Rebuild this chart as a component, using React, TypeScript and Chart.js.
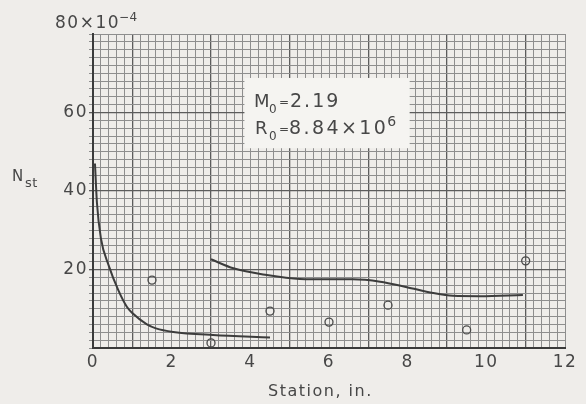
import React, { useEffect, useRef } from 'react';
import { Chart, registerables } from 'chart.js';
Chart.register(...registerables);

// Left decaying curve (Station, in. -> Nst x 10^4)
const curveAX = [0.05, 0.1, 0.2, 0.4, 0.64, 0.86, 1.0, 1.37, 1.6, 2.04, 3.05, 4.5];
const curveAY = [47, 37, 28, 21, 14.8, 10.5, 8.9, 6.0, 5.0, 4.1, 3.3, 2.7];
// Right curve
const curveBX = [3.0, 3.57, 4.42, 5.26, 6.03, 6.6, 7.3, 7.98, 8.65, 9.15, 9.84, 10.93];
const curveBY = [22.6, 20.3, 18.6, 17.6, 17.5, 17.5, 16.9, 15.5, 14.0, 13.3, 13.2, 13.5];
// Open-circle data points
const pointX = [1.5, 3, 4.5, 6, 7.5, 9.5, 11];
const pointY = [17.3, 1.3, 9.4, 6.6, 10.9, 4.6, 22.2];
// Tick labels
const xTickLabels = [0, 2, 4, 6, 8, 10, 12];
const yTickLabels = [20, 40, 60];

export default function App() {
  const ref = useRef<HTMLCanvasElement>(null);
  useEffect(() => {
    const canvas = ref.current!;
    const ink = '#474747';
    const fam = '"DejaVu Sans", sans-serif';
    const near = (v: number, t: number) => Math.abs(v - t) < 1e-6;
    const isInt = (v: number) => near(v, Math.round(v));
    const minor = '#8e8e8e';
    const major = '#5c5c5c';

    const paper = {
      id: 'paper',
      beforeDraw(chart: any) {
        const ctx = chart.ctx;
        ctx.save();
        ctx.fillStyle = '#efedea';
        ctx.fillRect(0, 0, chart.width, chart.height);
        ctx.restore();
        ctx.letterSpacing = '1.5px';
      },
      beforeDatasetsDraw(chart: any) {
        const ctx = chart.ctx;
        const xs = chart.scales.x;
        const ys = chart.scales.y;
        const x0 = xs.getPixelForValue(3.85);
        const x1 = xs.getPixelForValue(8.05);
        const y0 = ys.getPixelForValue(68.8);
        const y1 = ys.getPixelForValue(50.9);
        ctx.save();
        ctx.fillStyle = '#f5f4f1';
        ctx.fillRect(x0, y0, x1 - x0, y1 - y0);
        ctx.restore();
      },
      afterDraw(chart: any) {
        const ctx = chart.ctx;
        ctx.save();
        ctx.fillStyle = ink;
        ctx.textBaseline = 'alphabetic';
        ctx.textAlign = 'left';
        const t = (s: string, x: number, y: number, size: number, sp = 1.5) => {
          ctx.letterSpacing = `${sp}px`;
          ctx.font = `${size}px ${fam}`;
          ctx.fillText(s, x, y);
          return x + ctx.measureText(s).width;
        };
        // top y label
        const e1 = t('80\u00d710', 55, 28, 17);
        t('\u22124', e1 - 1, 21, 12, 0.5);
        // y axis title
        t('N', 12, 181, 15);
        t('st', 25, 187, 13, 0.5);
        // x axis title
        t('Station, in.', 268, 396, 16);
        // annotation box
        t('M', 254, 107, 18, 0);
        t('0', 269, 113, 12, 0);
        t('=', 279, 106, 12, 0);
        t('2.19', 290, 107, 19, 2);
        t('R', 255, 134, 18, 0);
        t('0', 269, 140, 12, 0);
        t('=', 279, 133, 12, 0);
        const e2 = t('8.84\u00d710', 289, 134, 19, 2.4);
        t('6', e2 - 1, 126, 14, 0);
        ctx.restore();
      },
    };

    const chart = new Chart(canvas, {
      type: 'scatter',
      data: {
        datasets: [
          {
            data: curveAX.map((x, i) => ({ x, y: curveAY[i] })),
            showLine: true,
            borderColor: '#3c3c3c',
            borderWidth: 2,
            pointRadius: 0,
            cubicInterpolationMode: 'monotone',
          },
          {
            data: curveBX.map((x, i) => ({ x, y: curveBY[i] })),
            showLine: true,
            borderColor: '#3c3c3c',
            borderWidth: 2,
            pointRadius: 0,
            cubicInterpolationMode: 'monotone',
          },
          {
            data: pointX.map((x, i) => ({ x, y: pointY[i] })),
            showLine: false,
            pointStyle: 'circle',
            pointRadius: 4,
            backgroundColor: 'rgba(0,0,0,0)',
            borderColor: '#4a4a4a',
            borderWidth: 1.3,
          },
        ],
      },
      options: {
        responsive: false,
        animation: false,
        events: [],
        layout: { padding: { left: 0, top: 34, right: 21, bottom: 0 } },
        plugins: { legend: { display: false }, tooltip: { enabled: false } },
        scales: {
          x: {
            type: 'linear',
            min: 0,
            max: 12,
            afterFit(scale: any) { scale.height = 56; },
            ticks: {
              stepSize: 0.2,
              autoSkip: false,
              maxRotation: 0,
              minRotation: 0,
              padding: 4,
              color: ink,
              font: { family: fam, size: 17 },
              callback: (v: any) => {
                const n = Number(v);
                const hit = xTickLabels.find((l) => near(l, n));
                return hit !== undefined ? String(hit) : '';
              },
            },
            grid: {
              drawTicks: false,
              color: (c: any) => {
                const v = c.tick ? c.tick.value : 0;
                return isInt(v) && Math.round(v) % 2 === 1 ? major : minor;
              },
              lineWidth: (c: any) => {
                const v = c.tick ? c.tick.value : 0;
                return isInt(v) && Math.round(v) % 2 === 1 ? 1.3 : 1;
              },
            },
            border: { display: true, color: '#3a3a3a', width: 2 },
          },
          y: {
            type: 'linear',
            min: 0,
            max: 80,
            afterFit(scale: any) { scale.width = 93; },
            ticks: {
              stepSize: 2,
              autoSkip: false,
              padding: 1,
              color: ink,
              font: { family: fam, size: 17 },
              callback: (v: any) => {
                const n = Number(v);
                const hit = yTickLabels.find((l) => near(l, n));
                return hit !== undefined ? String(hit) : '';
              },
            },
            grid: {
              tickLength: 4,
              color: (c: any) => {
                const v = c.tick ? c.tick.value : 0;
                return yTickLabels.some((l) => near(l, v)) ? major : minor;
              },
              lineWidth: (c: any) => {
                const v = c.tick ? c.tick.value : 0;
                return yTickLabels.some((l) => near(l, v)) ? 1.3 : 1;
              },
            },
            border: { display: true, color: '#3a3a3a', width: 2 },
          },
        },
      },
      plugins: [paper],
    } as any);
    return () => chart.destroy();
  }, []);
  return (
    <div style={{ position: 'fixed', left: 0, top: 0, width: 586, height: 404 }}>
      <canvas ref={ref} width={586} height={404} />
    </div>
  );
}
